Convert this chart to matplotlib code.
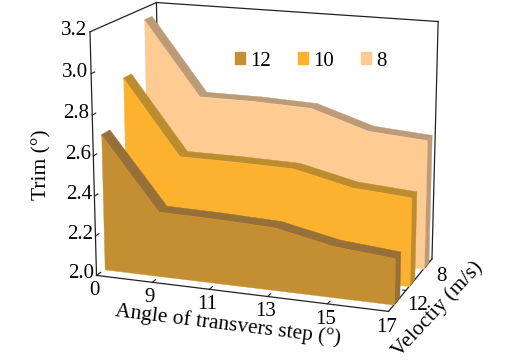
"""Trim vs transverse step angle, one ribbon per velocity."""
import matplotlib
matplotlib.use("Agg")
import matplotlib.pyplot as plt
from matplotlib.patches import Patch
from mpl_toolkits.mplot3d.art3d import Poly3DCollection
from mpl_toolkits.mplot3d import proj3d

plt.rcParams.update({
    'font.family': ['Liberation Serif', 'DejaVu Serif'],
    'font.size': 15,
})

angles = ['0', '9', '11', '13', '15', '17']
trim_12 = [2.68, 2.325, 2.32, 2.31, 2.25, 2.225]
trim_10 = [2.90, 2.53, 2.53, 2.525, 2.46, 2.44]
trim_8 = [3.14, 2.77, 2.77, 2.76, 2.67, 2.65]
trim_ticks = [2.0, 2.2, 2.4, 2.6, 2.8, 3.0, 3.2]
velocity_labels = ['12', '8']
velocity_label_pos = [0.38, 0.95]

ZMIN, ZMAX = 2.0, 3.2
WIDTH = 0.125  # slab thickness in depth

# (label, trim, depth of front face, face colour, top colour)
ribbons = [
    ('8', trim_8, 0.80, '#FECC93', '#BD9B77'),
    ('10', trim_10, 0.46, '#FDB22F', '#BC8C2E'),
    ('12', trim_12, 0.12, '#C48F32', '#967038'),
]

fig = plt.figure(figsize=(5.15, 3.64), dpi=100)
ax = fig.add_axes([0.008, 0.077, 1, 1], projection='3d', computed_zorder=False)
ax.set_proj_type('persp', focal_length=0.9)
ax.view_init(elev=15.3, azim=-70.3)
ax.set_box_aspect((298, 160, 244), zoom=1.136)
xs = list(range(len(angles)))
xmax = xs[-1]
ax.set_xlim(0, xmax)
ax.set_ylim(0, 1)
ax.set_zlim(ZMIN, ZMAX)
ax.set_axis_off()
ax.patch.set_alpha(0)


def label3d(x, y, z, s):
    # project by hand so the text sits in 2D data coords
    px, py, _ = proj3d.proj_transform(x, y, z, ax.get_proj())
    ax.text2D(px, py, s, transform=ax.transData, ha='center', va='center')


# box
box_kw = dict(color='#222222', lw=0.9, zorder=1)
ax.plot([0, 0], [1, 1], [ZMIN, ZMAX], **box_kw)
ax.plot([0, xmax], [1, 1], [ZMAX, ZMAX], **box_kw)
ax.plot([xmax, xmax], [1, 1], [ZMIN, ZMAX], **box_kw)
ax.plot([0, 0], [0, 1], [ZMAX, ZMAX], **box_kw)
ax.plot([0, 0], [0, 0], [ZMIN, ZMAX], **box_kw)
ax.plot([0, xmax], [0, 0], [ZMIN, ZMIN], **box_kw)
ax.plot([xmax, xmax], [0, 1], [ZMIN, ZMIN], **box_kw)
ax.plot([0, 0], [0, 0.06], [ZMIN, ZMIN], **box_kw)

# ribbons
zo = 2
for label, trim, y0, face, top in ribbons:
    y1 = y0 + WIDTH
    front = [(x, y0, z) for x, z in zip(xs, trim)] + [(xmax, y0, ZMIN), (0, y0, ZMIN)]
    polys = []
    for i in range(len(xs) - 1):
        polys.append([(xs[i], y0, trim[i]), (xs[i + 1], y0, trim[i + 1]),
                      (xs[i + 1], y1, trim[i + 1]), (xs[i], y1, trim[i])])
    cap = [(xmax, y0, ZMIN), (xmax, y1, ZMIN), (xmax, y1, trim[-1]), (xmax, y0, trim[-1])]
    ax.add_collection3d(Poly3DCollection(polys + [cap], facecolors=top, edgecolors=top,
                                         linewidths=0.3, zorder=zo))
    ax.add_collection3d(Poly3DCollection([front], facecolors=face, edgecolors=face,
                                         linewidths=0.3, zorder=zo + 1))
    zo += 2

# ticks and tick labels
for x, lab in zip(xs, angles):
    if 0 < x < xmax:
        ax.plot([x, x], [0, 0.05], [ZMIN, ZMIN], color='#222222', lw=0.8, zorder=1)
    label3d(x, -0.04, ZMIN - 0.065, lab)
for z in trim_ticks:
    if z > ZMIN and z < ZMAX:
        ax.plot([0, 0], [0, 0.05], [z, z], color='#222222', lw=0.8, zorder=1)
    label3d(-0.28, 0, z, f'{z:.1f}')
for y, lab in zip(velocity_label_pos, velocity_labels):
    label3d(xmax + 0.2, y, ZMIN - 0.07, lab)
    ax.plot([xmax - 0.05, xmax], [y, y], [ZMIN, ZMIN], color='#222222', lw=0.8, zorder=1)

fig.text(228 / 515, 1 - 325 / 364, 'Angle of transvers step (°)', rotation=-7,
         ha='center', va='center', fontsize=15.5)
fig.text(42 / 515, 1 - 165 / 364, 'Trim (°)', rotation=90,
         ha='center', va='center', fontsize=15.5)
fig.text(438 / 515, 1 - 309 / 364, 'Velocity (m/s)'.replace('city', 'ctiy'), rotation=47,
         ha='center', va='center', fontsize=15.5)

handles = [Patch(color=r[3], label=r[0]) for r in reversed(ribbons)]
fig.legend(handles=handles, loc='center', bbox_to_anchor=(311 / 515, 1 - 61 / 364), ncol=3,
           frameon=False, handlelength=0.5, handleheight=0.5, handletextpad=0.25,
           columnspacing=1.28, fontsize=15)

fig.savefig('out.png', dpi=100)
print('Saved: out.png')
